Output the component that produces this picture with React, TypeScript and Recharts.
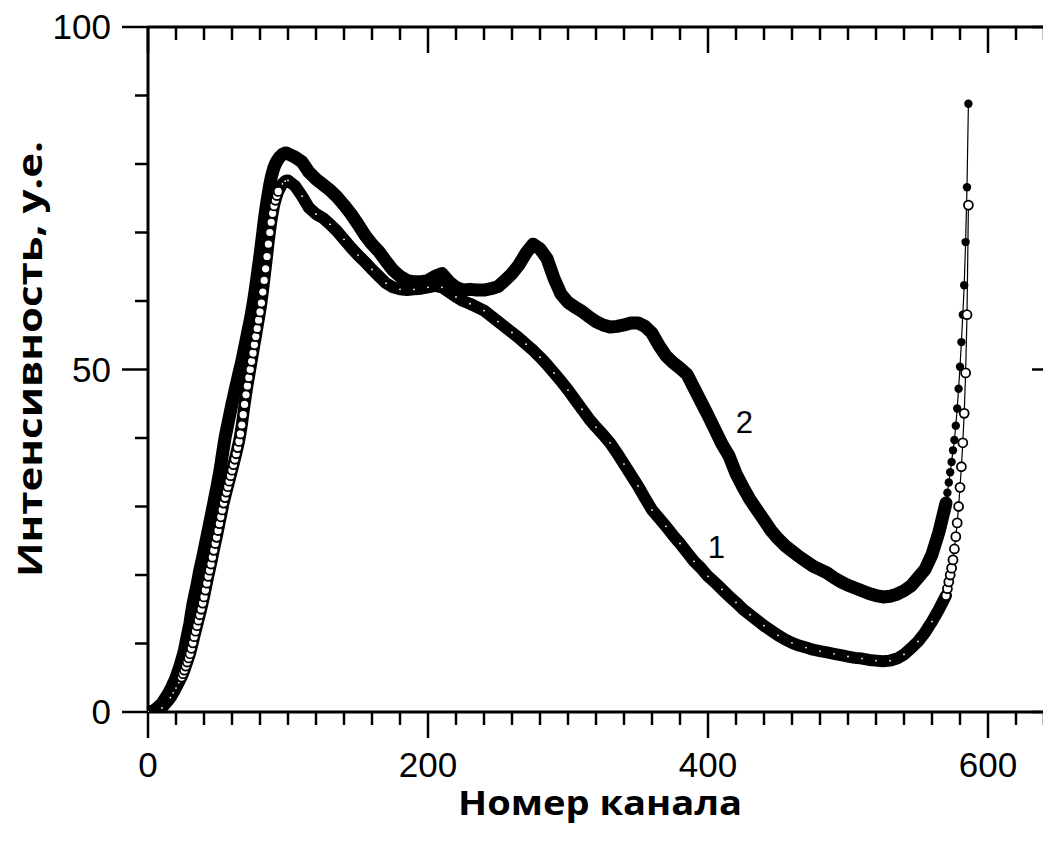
import { LineChart, Line, XAxis, YAxis, ReferenceDot } from 'recharts'

// channel numbers: every 5th channel where the spectra are flat, every channel on the steep flanks
const channels = [
  0, 5, 10,
  15, 16, 17, 18, 19, 20, 21, 22, 23, 24, 25, 26, 27, 28, 29, 30, 31, 32, 33, 34, 35, 36, 37, 38, 39, 40,
  41, 42, 43, 44, 45, 46, 47, 48, 49, 50, 51, 52, 53, 54, 55, 56, 57, 58, 59, 60, 61, 62, 63, 64, 65, 66,
  67, 68, 69, 70, 71, 72, 73, 74, 75, 76, 77, 78, 79, 80, 81, 82, 83, 84, 85, 86, 87, 88, 89, 90, 91, 92,
  93, 94, 95, 96, 97, 98, 99, 100,
  105, 110, 115, 120, 125, 130, 135, 140, 145, 150, 155, 160, 165, 170, 175, 180, 185, 190, 195, 200,
  205, 210, 215, 220, 225, 230, 235, 240, 245, 250, 255, 260, 265, 270, 275, 280, 285, 290, 295, 300,
  305, 310, 315, 320, 325, 330, 335, 340, 345, 350, 355, 360, 365, 370, 375, 380, 385, 390, 395, 400,
  405, 410, 415, 420, 425, 430, 435, 440, 445, 450, 455, 460, 465, 470, 475, 480, 485, 490, 495, 500,
  505, 510, 515, 520, 525, 530, 535, 540, 545, 550, 555, 560, 565,
  570, 571, 572, 573, 574, 575, 576, 577, 578, 579, 580, 581, 582, 583, 584, 585, 586,
]

// curve 1 (open circles)
const intensity1 = [
  0, 0.1, 0.6,
  1.8, 2.1, 2.4, 2.8, 3.1, 3.5, 3.9, 4.3, 4.7, 5.1, 5.6, 6.1, 6.7, 7.3, 7.9, 8.5, 9.3, 10.1, 11.0, 11.8,
  12.6, 13.4, 14.2, 15.0, 15.9, 16.8, 17.8, 18.8, 19.8, 20.7, 21.6, 22.6, 23.6, 24.6, 25.5, 26.5, 27.5,
  28.5, 29.5, 30.5, 31.3, 32.1, 32.9, 33.7, 34.5, 35.3, 36.1, 36.9, 37.7, 38.6, 39.5, 40.6, 41.9, 43.4,
  44.9, 46.3, 47.6, 48.8, 50.0, 51.2, 52.4, 53.6, 54.8, 56.0, 57.2, 58.4, 59.7, 61.3, 63.0, 64.7, 66.5,
  68.3, 70.0, 71.5, 72.8, 73.9, 74.7, 75.4, 76.0, 76.4, 76.8, 77.1, 77.3, 77.5, 77.6, 77.6,
  76.8, 75.3, 73.6, 72.7, 72.1, 71.2, 70.2, 69.0, 67.8, 66.7, 65.7, 64.6, 63.6, 62.6, 62.0, 61.7, 61.6,
  61.7, 61.8, 62.0, 62.2, 62.0, 61.3, 60.6, 60.0, 59.6, 59.1, 58.6, 57.8, 57.0, 56.2, 55.4, 54.6, 53.7,
  52.8, 51.8, 50.7, 49.5, 48.3, 47.0, 45.6, 44.2, 42.8, 41.6, 40.5, 39.3, 37.8, 36.2, 34.6, 33.0, 31.2,
  29.5, 28.3, 27.1, 25.8, 24.6, 23.3, 22.0, 21.0, 19.8, 18.9, 17.9, 16.9, 16.0, 15.0, 14.2, 13.4, 12.6,
  11.9, 11.2, 10.6, 10.1, 9.7, 9.4, 9.1, 8.9, 8.7, 8.5, 8.3, 8.1, 7.9, 7.8, 7.6, 7.5, 7.4, 7.5, 7.8, 8.4,
  9.3, 10.3, 11.6, 13.2, 15.0,
  17.0, 18.0, 19.0, 20.0, 21.0, 22.2, 23.8, 25.6, 27.6, 30.0, 32.8, 35.8, 39.3, 43.6, 49.5, 58.0, 74.0,
]

// curve 2 (filled circles)
const intensity2 = [
  0, 0.3, 1.2,
  2.8, 3.2, 3.6, 4.1, 4.5, 5.0, 5.6, 6.2, 6.8, 7.5, 8.2, 9.0, 10.0, 11.0, 12.0, 13.0, 14.4, 15.6, 16.6,
  17.6, 18.5, 19.6, 20.7, 21.6, 22.5, 23.5, 24.5, 25.5, 26.5, 27.5, 28.5, 29.5, 30.5, 31.6, 32.6, 33.7,
  34.8, 36.0, 37.4, 38.7, 40.0, 41.0, 42.0, 43.0, 44.0, 45.0, 45.9, 46.8, 47.7, 48.6, 49.5, 50.3, 51.2,
  52.2, 53.2, 54.2, 55.2, 56.2, 57.2, 58.3, 59.5, 60.8, 62.2, 63.7, 65.2, 66.7, 68.3, 70.0, 71.7, 73.2,
  74.6, 75.8, 77.0, 78.0, 78.8, 79.5, 80.0, 80.4, 80.7, 81.0, 81.2, 81.4, 81.5, 81.6, 81.6, 81.5,
  81.0, 80.3, 78.8, 77.8, 77.0, 76.2, 75.2, 74.0, 72.7, 71.2, 69.6, 68.3, 67.2, 65.8, 64.5, 63.6, 63.0,
  62.8, 62.8, 63.0, 63.6, 64.0, 62.8, 62.0, 61.6, 61.7, 61.6, 61.6, 61.8, 62.1, 63.0, 64.0, 65.3, 67.0,
  68.3, 67.6, 66.2, 63.3, 61.0, 59.8, 59.1, 58.5, 57.7, 57.0, 56.5, 56.2, 56.3, 56.5, 56.8, 56.8, 56.3,
  55.3, 53.5, 52.0, 51.0, 50.2, 49.3, 47.3, 45.3, 43.3, 41.2, 39.1, 37.4, 34.8, 32.8, 31.0, 29.5, 28.0,
  26.5, 25.3, 24.3, 23.5, 22.7, 22.0, 21.3, 20.8, 20.3, 19.6, 19.0, 18.5, 18.1, 17.7, 17.3, 17.0, 16.8,
  16.9, 17.2, 17.7, 18.4, 19.6, 20.8, 23.0, 26.3,
  30.5, 32.0, 33.5, 35.0, 36.5, 38.2, 39.7, 41.8, 44.3, 47.2, 50.4, 54.0, 58.0, 62.3, 68.6, 76.6, 88.8,
]

const xTicks = [
  0, 20, 40, 60, 80, 100, 120, 140, 160, 180, 200, 220, 240, 260, 280, 300, 320,
  340, 360, 380, 400, 420, 440, 460, 480, 500, 520, 540, 560, 580, 600, 620, 640,
]
const xLabels = [0, 200, 400, 600]
const yTicks = [0, 10, 20, 30, 40, 50, 60, 70, 80, 90, 100]
const yLabels = [0, 50, 100]

// the thick band follows the densely sampled part, markers sit on top
const BAND_END = 570

const rows = channels.map((ch, i) => ({
  ch,
  s1: intensity1[i],
  s2: intensity2[i],
  s1band: ch <= BAND_END ? intensity1[i] : null,
  s2band: ch <= BAND_END ? intensity2[i] : null,
}))

const FONT = '"Liberation Sans", Arial, sans-serif'
const TITLE_FONT = '"Open Sans", "Liberation Sans", Arial, sans-serif'
const axisLine = { stroke: '#000', strokeWidth: 3 }

type Side = 'bottom' | 'top' | 'left' | 'right'

function tickRenderer(side: Side) {
  return (props: any) => {
    const { x, y, payload, index } = props
    const v = Number(payload.value)
    const horiz = side === 'bottom' || side === 'top'
    const major = horiz ? xLabels.includes(v) : yLabels.includes(v)
    const len = major ? 26 : 13
    let x2 = x
    let y2 = y
    if (side === 'bottom' || side === 'top') y2 = y + len
    if (side === 'left') x2 = x - len
    if (side === 'right') x2 = x - len
    let label = null
    if (major && side === 'bottom') {
      label = (
        <text x={x} y={y + 53} dy="0.35em" textAnchor="middle" fontFamily={FONT} fontSize={35} fill="#000">
          {v}
        </text>
      )
    }
    if (major && side === 'left') {
      label = (
        <text x={x - 37} y={y} dy="0.35em" textAnchor="end" fontFamily={FONT} fontSize={35} fill="#000">
          {v}
        </text>
      )
    }
    return (
      <g key={`${side}-${index}`}>
        <line x1={x} y1={y} x2={x2} y2={y2} stroke="#000" strokeWidth={2.5} />
        {label}
      </g>
    )
  }
}

// markers: where neighbouring channels lie far apart the circles show up individually,
// on the flat parts they merge into the band
function markerRenderer(open: boolean) {
  return (props: any) => {
    const { cx, cy, index, points } = props
    if (cx == null || cy == null) return <g key={`m-${index}`} />
    let step = 0
    if (points && points.length > 1) {
      const a = points[Math.max(0, index - 1)]
      const b = points[Math.min(points.length - 1, index + 1)]
      const dch = b.payload.ch - a.payload.ch
      step = dch > 0 ? Math.hypot(b.x - a.x, b.y - a.y) / dch : 0
    }
    const sparse = step > 3.2
    if (sparse) {
      return open ? (
        <circle key={`m-${index}`} cx={cx} cy={cy} r={4.5} fill="#fff" stroke="#000" strokeWidth={1.8} />
      ) : (
        <circle key={`m-${index}`} cx={cx} cy={cy} r={4.2} fill="#000" />
      )
    }
    if (open && index % 2 === 0) {
      return <circle key={`m-${index}`} cx={cx} cy={cy} r={0.9} fill="#fff" />
    }
    return <g key={`m-${index}`} />
  }
}

const xTitle = () => (
  <text
    x={592}
    y={807}
    textAnchor="middle"
    fontFamily={TITLE_FONT}
    fontWeight={700}
    fontSize={34}
    textLength={284}
    lengthAdjust="spacingAndGlyphs"
    fill="#000"
  >
    Номер канала
  </text>
)

const yTitle = () => (
  <text
    x={34}
    y={351}
    transform="rotate(-90, 34, 351)"
    textAnchor="middle"
    fontFamily={TITLE_FONT}
    fontWeight={700}
    fontSize={34}
    textLength={436}
    lengthAdjust="spacingAndGlyphs"
    fill="#000"
  >
    Интенсивность, у.е.
  </text>
)

export default function App() {
  return (
    <div style={{ width: 1043, height: 827, overflow: 'hidden', background: '#fff' }}>
      <LineChart width={1060} height={827} data={rows} margin={{ top: 14, right: 0, bottom: 0, left: 0 }}>
        <XAxis
          xAxisId="b"
          dataKey="ch"
          type="number"
          domain={[0, 650]}
          allowDataOverflow
          ticks={xTicks}
          interval={0}
          height={123}
          tickSize={0}
          tickMargin={0}
          tickLine={false}
          axisLine={axisLine}
          tick={tickRenderer('bottom')}
          label={{ content: xTitle }}
        />
        <XAxis
          xAxisId="t"
          orientation="top"
          dataKey="ch"
          type="number"
          domain={[0, 650]}
          allowDataOverflow
          ticks={xTicks}
          interval={0}
          height={5}
          tickSize={0}
          tickMargin={0}
          tickLine={false}
          axisLine={axisLine}
          tick={tickRenderer('top')}
        />
        <YAxis
          yAxisId="l"
          type="number"
          domain={[0, 100]}
          allowDataOverflow
          ticks={yTicks}
          interval={0}
          width={140}
          tickSize={0}
          tickMargin={0}
          tickLine={false}
          axisLine={axisLine}
          tick={tickRenderer('left')}
          label={{ content: yTitle }}
        />
        <YAxis
          yAxisId="r"
          orientation="right"
          type="number"
          domain={[0, 100]}
          allowDataOverflow
          ticks={yTicks}
          interval={0}
          width={10}
          tickSize={0}
          tickMargin={0}
          tickLine={false}
          axisLine={axisLine}
          tick={tickRenderer('right')}
        />
        <Line
          xAxisId="b"
          yAxisId="l"
          dataKey="s2band"
          type="linear"
          stroke="#000"
          strokeWidth={13}
          strokeLinejoin="round"
          strokeLinecap="round"
          dot={false}
          activeDot={false}
          isAnimationActive={false}
        />
        <Line
          xAxisId="b"
          yAxisId="l"
          dataKey="s2"
          type="linear"
          stroke="#000"
          strokeWidth={1.2}
          dot={markerRenderer(false)}
          activeDot={false}
          isAnimationActive={false}
        />
        <Line
          xAxisId="b"
          yAxisId="l"
          dataKey="s1band"
          type="linear"
          stroke="#000"
          strokeWidth={12}
          strokeLinejoin="round"
          strokeLinecap="round"
          dot={false}
          activeDot={false}
          isAnimationActive={false}
        />
        <Line
          xAxisId="b"
          yAxisId="l"
          dataKey="s1"
          type="linear"
          stroke="#000"
          strokeWidth={1.2}
          dot={markerRenderer(true)}
          activeDot={false}
          isAnimationActive={false}
        />
        <ReferenceDot
          xAxisId="b"
          yAxisId="l"
          x={426}
          y={42.3}
          r={1}
          fill="none"
          stroke="none"
          label={{ value: '2', position: 'center', fontFamily: FONT, fontSize: 31, fill: '#000' }}
        />
        <ReferenceDot
          xAxisId="b"
          yAxisId="l"
          x={406}
          y={24.1}
          r={1}
          fill="none"
          stroke="none"
          label={{ value: '1', position: 'center', fontFamily: FONT, fontSize: 31, fill: '#000' }}
        />
      </LineChart>
    </div>
  )
}
